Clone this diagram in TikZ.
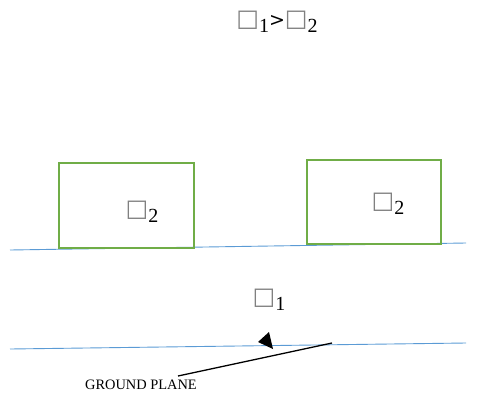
\documentclass[tikz,border=0pt]{standalone}
\usepackage{fontspec}
\setmainfont{Liberation Serif}
\newfontfamily\symfont{DejaVu Sans}
\definecolor{gplane}{RGB}{91,155,213}
\definecolor{boxgreen}{RGB}{112,173,71}
\newcommand{\missbox}[1]{{\symfont\fontsize{24}{26}\selectfont\textcolor{gray}{□}}\raisebox{-6pt}{\fontsize{20}{22}\selectfont #1}}
\tikzset{
  plane/.style={draw=gplane, line width=0.9pt},
  slab/.style={draw=boxgreen, line width=2.3pt},
  lbl/.style={inner sep=0pt},
  small/.style={inner sep=0pt, font=\fontsize{14.4}{16}\selectfont}
}
\begin{document}
\begin{tikzpicture}[x=1pt,y=-1pt]
\useasboundingbox (0,0) rectangle (479,394);
% title
\node[lbl] (title) at (277,22) {\missbox{1}{\symfont\fontsize{19}{21}\selectfont >}\missbox{2}};
% upper plane
\coordinate (p1a) at (10,250);
\coordinate (p1b) at (466,243);
\draw[plane] (p1a) -- (p1b);
% lower plane
\coordinate (p2a) at (10,349);
\coordinate (p2b) at (466,343);
\draw[plane] (p2a) -- (p2b);
% boxes
\node[slab, minimum width=135, minimum height=85, inner sep=0pt] (b1) at (126.5,205.5) {};
\node[slab, minimum width=134, minimum height=84, inner sep=0pt] (b2) at (374,202) {};
\node[lbl] (l1) at (142,212) {\missbox{2}};
\node[lbl] (l2) at (388,204) {\missbox{2}};
\node[lbl] (l3) at (269,300) {\missbox{1}};
% ground plane pointer
\node[small] (gp) at (141,385) {GROUND PLANE};
\coordinate (ps) at (332,343);
\coordinate (pe) at (178,376);
\draw[line width=1.3pt] (ps) -- (pe);
\fill (258,342) -- (269,332) -- (273,349) -- cycle;
\end{tikzpicture}
\end{document}
